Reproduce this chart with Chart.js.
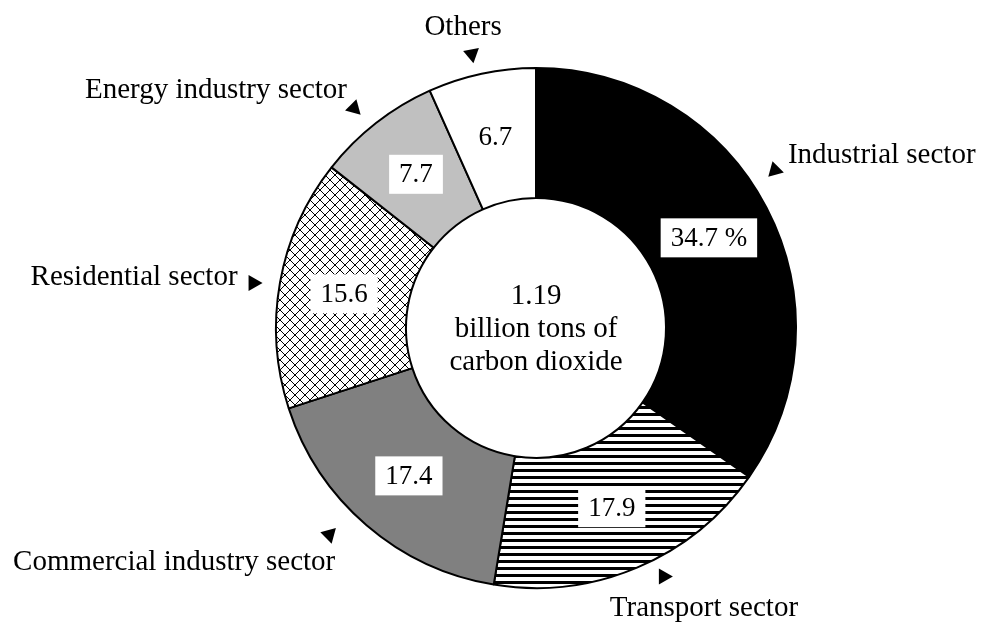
<!DOCTYPE html>
<html><head><meta charset="utf-8">
<script src="https://cdn.jsdelivr.net/npm/chart.js@4.4.0/dist/chart.umd.min.js"></script>
<style>html,body{margin:0;padding:0;background:#fff;} canvas{display:block;}</style>
</head><body>
<canvas id="c" width="981" height="626"></canvas>
<script>
// ---- data ----
const categories = ['Industrial sector', 'Transport sector', 'Commercial industry sector', 'Residential sector', 'Energy industry sector', 'Others'];
const shares = [34.7, 17.9, 17.4, 15.6, 7.7, 6.7];
const valueLabels = ['34.7 %', '17.9', '17.4', '15.6', '7.7', '6.7'];
const centerLines = ['1.19', 'billion tons of', 'carbon dioxide'];

// ---- styles ----
const FONT = '"Liberation Serif", "Times New Roman", serif';

function hLinesPattern() {
  const c = document.createElement('canvas'); c.width = 7; c.height = 7;
  const g = c.getContext('2d');
  g.fillStyle = '#fff'; g.fillRect(0, 0, 7, 7);
  g.fillStyle = '#000'; g.fillRect(0, 0, 7, 3);
  return g.createPattern(c, 'repeat');
}
function crossPattern() {
  const n = 10;
  const c = document.createElement('canvas'); c.width = n; c.height = n;
  const g = c.getContext('2d');
  g.fillStyle = '#fff'; g.fillRect(0, 0, n, n);
  g.fillStyle = '#000';
  for (let i = 0; i < n; i++) { g.fillRect(i, i, 1, 1); g.fillRect(n - 1 - i, i, 1, 1); }
  return g.createPattern(c, 'repeat');
}
const fills = ['#000000', hLinesPattern(), '#808080', crossPattern(), '#c0c0c0', '#ffffff'];

// outer label layout relative to chart centre: clock angle (deg), distance beyond outer radius,
// arrow direction (screen deg), text offset from arrow, alignment
const labelLayout = [
  { ang: 56.6, dr: 25, dir: 135, dx: 14, dy: -16, align: 'left' },
  { ang: 152.6, dr: 20, dir: 0, dx: -55, dy: 32, align: 'left' },
  { ang: 225.0, dr: 31, dir: -45, dx: 5, dy: 29, align: 'right' },
  { ang: 279.1, dr: 25, dir: 0, dx: -17, dy: -6, align: 'right' },
  { ang: 320.4, dr: 24, dir: 45, dx: -8, dy: -19, align: 'right' },
  { ang: 346.8, dr: 20, dir: 80, dx: -9, dy: -28, align: 'center' }
];

const annotate = {
  id: 'annotate',
  afterDatasetsDraw(chart) {
    const ctx = chart.ctx;
    const meta = chart.getDatasetMeta(0);
    const a0 = meta.data[0];
    const cx = a0.x, cy = a0.y, R = a0.outerRadius;
    ctx.save();
    // value boxes
    ctx.font = '27px ' + FONT;
    ctx.textAlign = 'center';
    ctx.textBaseline = 'middle';
    meta.data.forEach((arc, i) => {
      const p = arc.tooltipPosition();
      const w = ctx.measureText(valueLabels[i]).width + 20;
      const h = 39;
      ctx.fillStyle = '#fff';
      ctx.fillRect(p.x - w / 2, p.y - h / 2, w, h);
      ctx.fillStyle = '#000';
      ctx.fillText(valueLabels[i], p.x, p.y + 1);
    });
    // centre text
    ctx.font = '29px ' + FONT;
    const lh = 33;
    centerLines.forEach((t, k) => {
      ctx.fillText(t, cx, cy - lh + k * lh + 1);
    });
    // outer labels with arrows
    labelLayout.forEach((L, i) => {
      const th = L.ang * Math.PI / 180;
      const r = R + L.dr;
      const ax = cx + r * Math.sin(th), ay = cy - r * Math.cos(th);
      const d = L.dir * Math.PI / 180;
      ctx.save();
      ctx.translate(ax, ay);
      ctx.rotate(d);
      ctx.beginPath();
      ctx.moveTo(8, 0);
      ctx.lineTo(-6, -8);
      ctx.lineTo(-6, 8);
      ctx.closePath();
      ctx.fillStyle = '#000';
      ctx.fill();
      ctx.restore();
      ctx.textAlign = L.align;
      ctx.fillText(categories[i], ax + L.dx, ay + L.dy);
    });
    ctx.restore();
  }
};

new Chart(document.getElementById('c'), {
  type: 'doughnut',
  data: {
    labels: categories,
    datasets: [{
      data: shares,
      backgroundColor: fills,
      borderColor: '#000',
      borderWidth: 2,
      hoverOffset: 0
    }]
  },
  options: {
    responsive: false,
    animation: false,
    devicePixelRatio: 1,
    cutout: '50%',
    layout: { padding: { top: 67, bottom: 37, left: 91, right: 0 } },
    plugins: { legend: { display: false }, tooltip: { enabled: false } },
    events: []
  },
  plugins: [annotate]
});
</script>
</body></html>
